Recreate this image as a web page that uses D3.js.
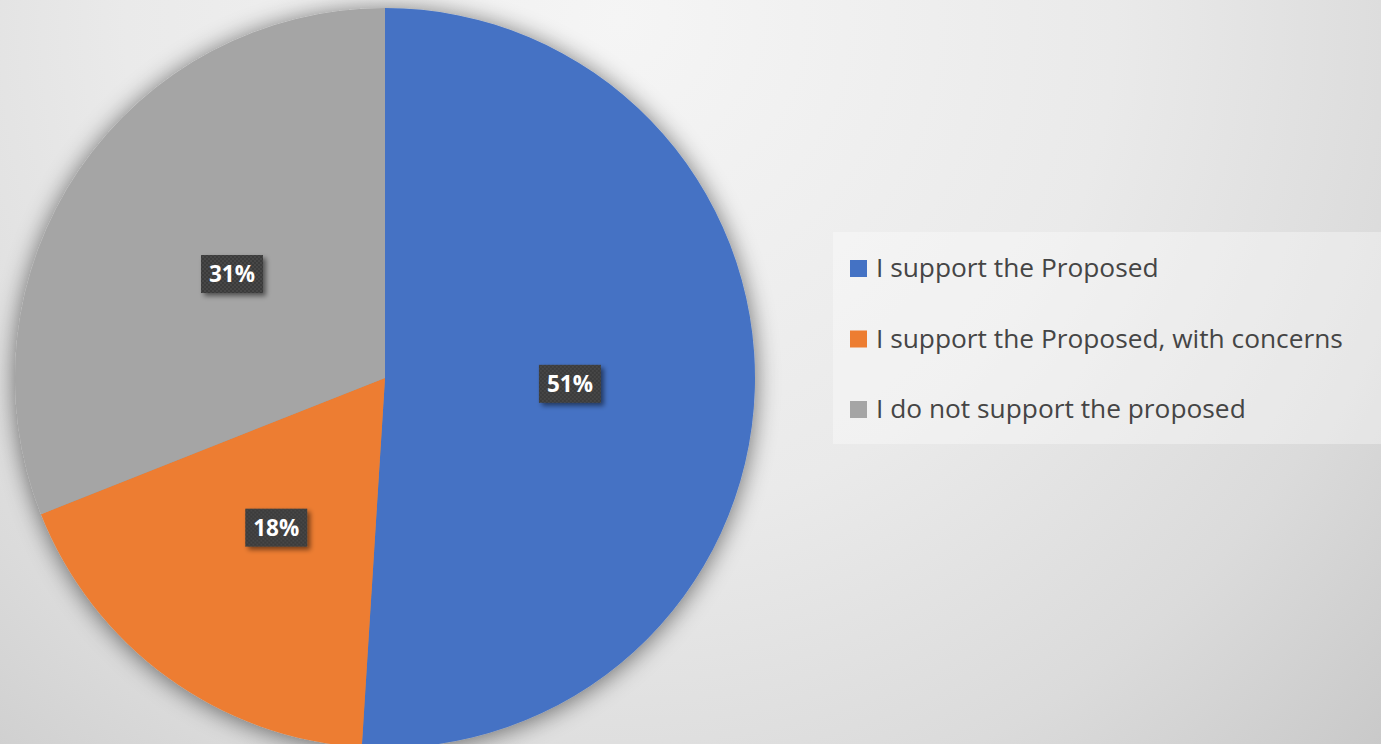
<!DOCTYPE html>
<html>
<head>
<meta charset="utf-8">
<script src="https://cdn.jsdelivr.net/npm/d3@7"></script>
<style>
  body { margin: 0; overflow: hidden; }
</style>
</head>
<body>
<div id="chart"></div>
<script>
// values
const categories = ["I support the Proposed", "I support the Proposed, with concerns", "I do not support the proposed"]
const shares = [51, 18, 31]
const sliceColors = ["#4472c4", "#ed7d31", "#a5a5a5"]

const dims = { width: 1381, height: 744 }
const pieCenter = { x: 385, y: 378 }
const radius = 370

const svg = d3.select("#chart").append("svg")
    .attr("width", dims.width)
    .attr("height", dims.height)

const defs = svg.append("defs")

// background gradient
const bg = defs.append("radialGradient")
    .attr("id", "bg")
    .attr("gradientUnits", "userSpaceOnUse")
    .attr("cx", 620).attr("cy", 20).attr("r", 1150)
bg.append("stop").attr("offset", "0%").attr("stop-color", "#f5f5f5")
bg.append("stop").attr("offset", "43%").attr("stop-color", "#eaeaea")
bg.append("stop").attr("offset", "70%").attr("stop-color", "#dbdbdb")
bg.append("stop").attr("offset", "100%").attr("stop-color", "#c2c2c2")

// soft shadow for pie
const shadow = defs.append("filter").attr("id", "shadow")
    .attr("x", "-20%").attr("y", "-20%").attr("width", "140%").attr("height", "140%")
shadow.append("feGaussianBlur").attr("in", "SourceAlpha").attr("stdDeviation", 12)
shadow.append("feOffset").attr("dx", 0).attr("dy", 2).attr("result", "blur")
shadow.append("feComponentTransfer").append("feFuncA").attr("type", "linear").attr("slope", 0.55)
const merge = shadow.append("feMerge")
merge.append("feMergeNode")
merge.append("feMergeNode").attr("in", "SourceGraphic")

// label shadow
const lblShadow = defs.append("filter").attr("id", "lblShadow")
    .attr("x", "-30%").attr("y", "-30%").attr("width", "170%").attr("height", "180%")
lblShadow.append("feGaussianBlur").attr("in", "SourceAlpha").attr("stdDeviation", 2.5)
lblShadow.append("feOffset").attr("dx", 3).attr("dy", 3).attr("result", "blur")
lblShadow.append("feComponentTransfer").append("feFuncA").attr("type", "linear").attr("slope", 0.5)
const merge2 = lblShadow.append("feMerge")
merge2.append("feMergeNode")
merge2.append("feMergeNode").attr("in", "SourceGraphic")

// dotted texture for label boxes
const pat = defs.append("pattern")
    .attr("id", "dots")
    .attr("patternUnits", "userSpaceOnUse")
    .attr("width", 4).attr("height", 4)
pat.append("rect").attr("width", 4).attr("height", 4).attr("fill", "#3b3b3b")
pat.append("circle").attr("cx", 1).attr("cy", 1).attr("r", 0.8).attr("fill", "#535353")
pat.append("circle").attr("cx", 3).attr("cy", 3).attr("r", 0.8).attr("fill", "#535353")

svg.append("rect")
    .attr("width", dims.width)
    .attr("height", dims.height)
    .attr("fill", "url(#bg)")

const colorScale = d3.scaleOrdinal().domain(categories).range(sliceColors)

const data = categories.map((c, i) => ({ name: c, value: shares[i] }))

const pie = d3.pie().value(d => d.value).sort(null)
const arc = d3.arc().innerRadius(0).outerRadius(radius)
const labelArc = d3.arc().innerRadius(radius / 2).outerRadius(radius / 2)

const container = svg.append("g")
    .attr("transform", `translate(${pieCenter.x},${pieCenter.y})`)

container.append("g")
    .attr("filter", "url(#shadow)")
    .selectAll("path")
    .data(pie(data))
    .enter()
    .append("path")
    .attr("d", arc)
    .attr("fill", d => colorScale(d.data.name))

const labels = container.selectAll("g.label")
    .data(pie(data))
    .enter()
    .append("g")
    .attr("class", "label")
    .attr("transform", d => `translate(${labelArc.centroid(d)})`)

labels.append("rect")
    .attr("x", -31).attr("y", -19)
    .attr("width", 62).attr("height", 38)
    .attr("fill", "url(#dots)")
    .attr("filter", "url(#lblShadow)")

labels.append("text")
    .attr("text-anchor", "middle")
    .attr("dy", "0.36em")
    .attr("fill", "#ffffff")
    .attr("font-family", "'Open Sans', sans-serif")
    .attr("font-weight", "bold")
    .attr("font-size", "22.5px")
    .text(d => d.data.value + "%")

// legend
const legend = svg.append("g")
legend.append("rect")
    .attr("x", 833).attr("y", 232)
    .attr("width", 548).attr("height", 212)
    .attr("fill", "#ffffff")
    .attr("fill-opacity", 0.35)

const rowY = d3.scalePoint().domain(categories).range([268, 409])

const rows = legend.selectAll("g.row")
    .data(categories)
    .enter()
    .append("g")
    .attr("class", "row")
    .attr("transform", d => `translate(850,${rowY(d)})`)

rows.append("rect")
    .attr("x", 0).attr("y", -8)
    .attr("width", 17).attr("height", 17)
    .attr("fill", d => colorScale(d))

rows.append("text")
    .attr("x", 26)
    .attr("dy", "0.35em")
    .attr("fill", "#454545")
    .attr("font-family", "'Open Sans', sans-serif")
    .attr("font-size", "26.3px")
    .text(d => d)
</script>
</body>
</html>
